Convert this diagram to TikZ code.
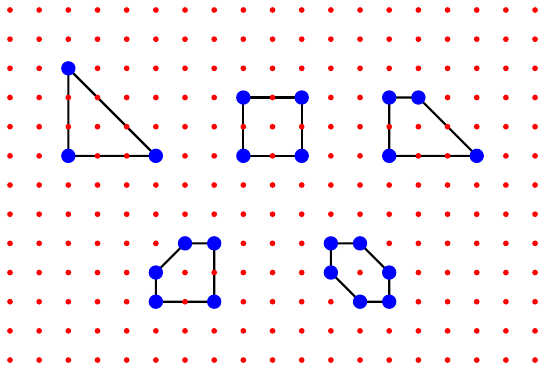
\documentclass[tikz,border=0pt]{standalone}
\usetikzlibrary{backgrounds}
\tikzset{
  griddot/.style={circle,fill=red,inner sep=0pt,minimum size=5.6pt},
  vertex/.style={circle,fill=blue,inner sep=0pt,minimum size=14pt},
  edge/.style={line width=2.1pt,black}
}
\begin{document}
\begin{tikzpicture}
  \useasboundingbox (-0.343,-0.171) rectangle (18.135,12.343);
  % dot lattice
  \foreach \i in {0,...,18}{
      \foreach \j in {0,...,12}{
          \node[griddot] (g-\i-\j) at (\i,\j) {};
        }
    }
  % polygon corners
  \foreach \name/\x/\y in {t1/2/10,t2/2/7,t3/5/7,
      s1/8/9,s2/10/9,s3/10/7,s4/8/7,
      q1/13/9,q2/14/9,q3/16/7,q4/13/7,
      p1/6/4,p2/7/4,p3/7/2,p4/5/2,p5/5/3,
      h1/11/4,h2/12/4,h3/13/3,h4/13/2,h5/12/2,h6/11/3}{
      \node[vertex] (\name) at (\x,\y) {};
    }
  \begin{scope}[on background layer]
    \draw[edge] (t1.center)--(t2.center)--(t3.center)--cycle;
    \draw[edge] (s1.center)--(s2.center)--(s3.center)--(s4.center)--cycle;
    \draw[edge] (q1.center)--(q2.center)--(q3.center)--(q4.center)--cycle;
    \draw[edge] (p1.center)--(p2.center)--(p3.center)--(p4.center)--(p5.center)--cycle;
    \draw[edge] (h1.center)--(h2.center)--(h3.center)--(h4.center)--(h5.center)--(h6.center)--cycle;
  \end{scope}
\end{tikzpicture}
\end{document}
